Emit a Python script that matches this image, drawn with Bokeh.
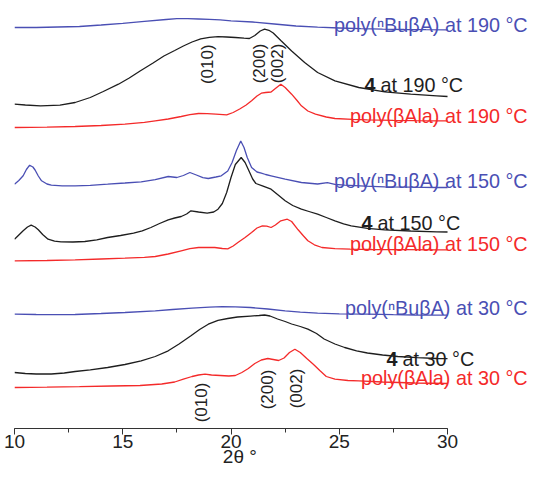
from bokeh.plotting import figure
from bokeh.models import Range1d, SingleIntervalTicker
from bokeh.core.properties import value
from bokeh.embed import file_html
from bokeh.resources import INLINE
import math

# ---------------- data (2θ in degrees, intensity in arbitrary units, stacked) ----------------
x_bu190 = [10, 11, 12, 13, 14, 15, 16, 17, 17.5, 18, 18.5, 19, 19.5, 20, 21, 22, 23, 24, 25, 26, 27, 28, 29, 30]
y_bu190 = [402, 402, 402.5, 403, 404.5, 406.2, 408.2, 410, 410.8, 410.8, 410.5, 410.2, 409.7, 408.7, 407.5,
           405.5, 403.5, 402.3, 401.5, 400.8, 400.3, 400, 399.8, 399.7]

x_c4_190 = [10.0, 10.5, 11.2, 12.1, 12.8, 13.5, 14.1, 14.8, 15.3, 15.8, 16.4, 16.9, 17.4, 17.8, 18.2, 18.6, 19.0,
            19.4, 19.8, 20.2, 20.6, 20.85, 21.1, 21.35, 21.55, 21.75, 21.95, 22.3, 22.8, 23.4, 24.0, 24.8, 25.9,
            27.1, 28.3, 29.5, 30.0]
y_c4_190 = [325.3, 324.5, 323.7, 324.3, 327, 332, 338, 345.3, 351.5, 358.5, 366.5, 373.5, 379, 383.5, 387.5,
            390.7, 392.2, 392.8, 392.5, 392, 391.3, 391, 394, 398.5, 400.3, 399.2, 396.5, 389, 378.5, 367, 357,
            348.7, 342, 337.7, 335.3, 333.7, 333]

x_ala190 = [10.0, 11.5, 12.8, 14, 15.1, 16, 16.5, 17.1, 17.7, 18.1, 18.5, 18.9, 19.3, 19.8, 20.1, 20.4, 20.7,
            20.95, 21.2, 21.4, 21.6, 21.85, 22.05, 22.3, 22.5, 22.8, 23.05, 23.25, 23.55, 23.9, 24.4, 24.8, 25.6,
            26.3, 27.5, 28.5, 29.5, 30]
y_ala190 = [302, 302.3, 303, 304, 305.3, 307.2, 308.7, 310.5, 313, 314.8, 316, 315.8, 315.3, 314.7, 317, 320.5,
            324.5, 328.7, 333.5, 336.3, 337, 337.5, 341, 345.3, 342, 335.3, 329, 323.7, 318.5, 315.3, 312.5, 311,
            310.2, 309.7, 309.2, 308.9, 308.7, 308.6]

x_bu150 = [10.0, 10.2, 10.4, 10.55, 10.7, 10.85, 10.95, 11.1, 11.25, 11.5, 11.7, 12.2, 12.8, 13.5, 14.3, 15.1,
           15.85, 16.5, 17.1, 17.5, 17.8, 18.1, 18.4, 18.7, 18.95, 19.3, 19.55, 19.85, 20.05, 20.25, 20.45, 20.6,
           20.75, 20.95, 21.2, 21.4, 21.6, 21.85, 22.5, 23.25, 24.0, 24.45, 24.8, 25.25, 26.2, 27.1, 28.3, 29.5, 30]
y_bu150 = [245.3, 249, 253.7, 260, 264.3, 262.5, 259.5, 253.5, 248.7, 245.5, 244.3, 243.7, 243.7, 244.2, 245.3,
           246.5, 247.7, 249.8, 253, 252, 254, 257, 254.5, 251.8, 251, 252.5, 253.7, 258.5, 267, 279, 288.5, 282,
           272, 262, 257.5, 256.3, 255, 253.7, 250.3, 247, 245.5, 246.8, 245.2, 244.3, 243.3, 242.7, 242.3, 242, 242]

x_c4_150 = [10.0, 10.2, 10.4, 10.6, 10.77, 10.95, 11.1, 11.3, 11.55, 11.85, 12.15, 12.7, 13.25, 13.8, 14.3, 14.9,
            15.5, 15.9, 16.3, 16.7, 17.1, 17.4, 17.7, 17.95, 18.15, 18.5, 18.9, 19.2, 19.4, 19.6, 19.8, 20.0, 20.2,
            20.47, 20.65, 20.8, 21.0, 21.15, 21.45, 21.85, 22.15, 22.5, 22.85, 23.25, 23.6, 24.0, 24.4, 24.8, 25.2,
            25.55, 26.3, 27.1, 28.3, 29.5, 30]
y_c4_150 = [190.3, 194.5, 198.7, 202.5, 204.3, 202.5, 199.7, 195, 190.3, 188.4, 187.7, 187.5, 188, 189.7, 192,
            194, 196.3, 198.7, 202, 206, 209.7, 211.5, 213, 215.5, 218.7, 217.5, 216.3, 217.5, 220.3, 226, 237,
            252, 265, 272, 267, 260, 250.5, 246, 243.7, 240.3, 235, 228.7, 224, 220.3, 218, 215.3, 212, 208.7,
            205.7, 203.7, 201.2, 199.7, 198.5, 197.7, 197.5]

x_ala150 = [10.0, 11.5, 12.8, 14, 15.1, 16.0, 16.5, 17.1, 17.7, 18.1, 18.5, 18.9, 19.25, 19.6, 19.85, 20.1, 20.35,
            20.65, 20.95, 21.2, 21.45, 21.65, 21.85, 22.05, 22.3, 22.6, 22.8, 23.1, 23.35, 23.55, 23.85, 24.2, 24.8,
            25.5, 26.5, 28, 29.5, 30]
y_ala150 = [168.7, 169, 169.7, 170.5, 171.3, 172.2, 173, 175.5, 178.7, 180.8, 182, 182.2, 182, 181, 180.7, 183.5,
            187.5, 192, 197, 201.5, 203.7, 203.4, 202, 204.5, 208.7, 210.3, 208, 199.7, 193.5, 188.7, 184.7, 182,
            180.8, 180.3, 180, 179.8, 179.7, 179.7]

x_bu30 = [10, 11, 12, 12.8, 14, 15.1, 16.5, 17.3, 18.2, 19, 19.6, 20.2, 20.9, 21.7, 22.5, 23.2, 24, 25, 26.3,
          27.5, 28.5, 29.5, 30]
y_bu30 = [115.3, 115, 114.8, 115, 116, 117, 118.7, 120, 121.3, 122.4, 122.8, 122.7, 122, 120.5, 118.7, 117.3,
          116.3, 115.7, 115.3, 114.8, 114.5, 114.3, 114.3]

x_c4_30 = [10, 10.5, 11, 11.7, 12.3, 12.8, 13.5, 14.3, 15.1, 15.85, 16.5, 17.1, 17.6, 18.15, 18.55, 18.95, 19.4,
           19.85, 20.3, 20.9, 21.3, 21.55, 21.8, 22.15, 22.5, 22.8, 23.2, 23.55, 23.95, 24.3, 24.8, 25.25, 25.8,
           26.3, 27, 27.7, 28.6, 29.5, 30]
y_c4_30 = [57, 56, 55.5, 55.5, 56.5, 58, 59.7, 62, 65, 68.7, 73, 78.7, 85.5, 93.7, 100, 105.3, 109.2, 111, 112.5,
           113.4, 114, 114.5, 113.5, 110.5, 108, 105.5, 103, 100.3, 96, 90.5, 85.5, 82, 78.7, 76.5, 74.5, 73,
           71.8, 71, 70.8]

x_ala30 = [10, 11.5, 13, 14.5, 15.8, 16.8, 17.4, 17.8, 18.2, 18.5, 18.8, 19.1, 19.5, 19.9, 20.2, 20.5, 20.8, 21.1,
           21.4, 21.7, 21.95, 22.2, 22.45, 22.7, 22.95, 23.2, 23.5, 23.8, 24.1, 24.4, 24.8, 25.4, 25.9, 27, 28.5, 30]
y_ala30 = [42, 42.3, 42.8, 43.5, 44, 45.5, 47.5, 50.3, 53, 54.5, 55.3, 54.5, 54, 53.5, 54, 57, 61, 66, 69.5, 71,
           70, 69, 71.5, 77, 80.3, 77, 71, 65.3, 59, 53, 50.3, 49, 48.7, 47.5, 46.5, 46]

# labels
poly_labels = ["poly(ⁿBuβA) at 190 °C", "poly(βAla) at 190 °C",
               "poly(ⁿBuβA) at 150 °C", "poly(βAla) at 150 °C",
               "poly(ⁿBuβA) at 30 °C", "poly(βAla) at 30 °C"]
c4_labels = ["at 190 °C", "at 150 °C", "at 30 °C"]
peak_labels = ["(010)", "(200)", "(002)", "(010)", "(200)", "(002)"]
# trailing no-break spaces shift the frame-centred axis title left, under 2θ ≈ 20.4°
x_axis_label = "2θ °" + "\u00a0" * 12
x_ticks_interval = 5

BLUE = "#4a4fb4"
RED = "#f42a2a"
BLACK = "#1e1e1e"
FONT = "Liberation Sans"

p = figure(width=528, height=472, x_range=Range1d(10, 33.74), y_range=Range1d(1, 429),
           output_backend="svg", toolbar_location=None, y_axis_location=None,
           min_border_left=14, min_border_right=0, min_border_top=0, min_border_bottom=44)
p.outline_line_color = None
p.grid.visible = False
p.background_fill_color = "white"
p.border_fill_color = "white"

for xs, ys, col in [(x_bu190, y_bu190, BLUE), (x_c4_190, y_c4_190, BLACK), (x_ala190, y_ala190, RED),
                    (x_bu150, y_bu150, BLUE), (x_c4_150, y_c4_150, BLACK), (x_ala150, y_ala150, RED),
                    (x_bu30, y_bu30, BLUE), (x_c4_30, y_c4_30, BLACK), (x_ala30, y_ala30, RED)]:
    p.line(xs, ys, line_color=col, line_width=1.3)

ax = p.xaxis[0]
ax.bounds = (10, 30)
ax.ticker = SingleIntervalTicker(interval=x_ticks_interval, num_minor_ticks=2)
ax.axis_line_color = "#333333"
ax.axis_line_width = 1.2
ax.major_tick_line_color = "#333333"
ax.minor_tick_line_color = "#333333"
ax.major_tick_in = 0
ax.major_tick_out = 6
ax.minor_tick_in = 0
ax.minor_tick_out = 4
ax.major_label_standoff = 0
ax.major_label_text_font = FONT
ax.major_label_text_font_size = "19px"
ax.major_label_text_color = "#222222"
ax.axis_label = x_axis_label
ax.axis_label_standoff = -5
ax.axis_label_text_font = FONT
ax.axis_label_text_font_size = "19px"
ax.axis_label_text_font_style = "normal"
ax.axis_label_text_color = "#222222"

# curve labels
poly_y = [405, 313.5, 248.7, 185.3, 122, 52]
poly_c = [BLUE, RED, BLUE, RED, BLUE, RED]
p.text(x=[33.7] * 6, y=poly_y, text=poly_labels, text_color=poly_c,
       text_font=value(FONT), text_font_size=value("19.8px"),
       text_align="right", text_baseline="alphabetic")

c4_x = [26.67, 26.54, 27.69]
c4_y = [345, 207, 70.3]
p.text(x=c4_x, y=c4_y, text=["4"] * 3, text_color=BLACK, text_font=value(FONT),
       text_font_size=value("19.8px"), text_font_style="bold",
       text_align="right", text_baseline="alphabetic")
p.text(x=c4_x, y=c4_y, text=c4_labels, text_color=BLACK, text_font=value(FONT),
       text_font_size=value("19.8px"), text_align="left", text_baseline="alphabetic",
       x_offset=5)

# peak indices
pk_x = [18.91, 21.30, 22.15, 18.63, 21.67, 23.03]
pk_y = [365.3, 366, 366, 27, 40, 41]
p.text(x=pk_x, y=pk_y, text=peak_labels, angle=math.pi / 2, text_color="#222222",
       text_font=value(FONT), text_font_size=value("17px"),
       text_align="center", text_baseline="middle")

open("out.html", "w").write(file_html(p, INLINE))
